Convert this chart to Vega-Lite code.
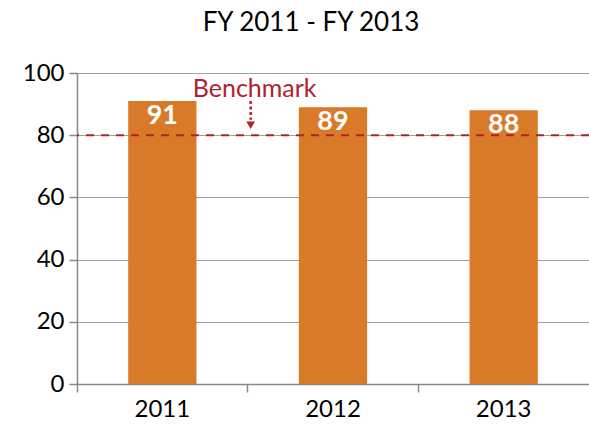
{
  "$schema": "https://vega.github.io/schema/vega-lite/v6.json",
  "autosize": "none",
  "width": 512,
  "height": 311,
  "padding": {"left": 77, "top": 73, "right": 0, "bottom": 44},
  "background": "white",
  "title": {"text": "FY 2011 - FY 2013", "font": "Lato", "fontSize": 26, "fontWeight": "normal", "color": "#000000", "anchor": "middle", "dx": -22, "offset": 25},
  "config": {"view": {"stroke": null}, "font": "Lato"},
  "datasets": {
    "bars": [
      {"year": "2011", "value": 91},
      {"year": "2012", "value": 89},
      {"year": "2013", "value": 88}
    ],
    "bench": [{"value": 80, "label": "Benchmark", "year": "2012", "ty": 95, "a1": 91, "a2": 85, "tip": 83.2}]
  },
  "layer": [
    {
      "data": {"name": "bars"},
      "mark": {"type": "bar", "color": "#D97A29"},
      "encoding": {
        "x": {"field": "year", "type": "nominal", "scale": {"paddingInner": 0.6, "paddingOuter": 0.3},
          "axis": {"title": null, "labelAngle": 0, "labelFont": "Lato", "labelFontSize": 24, "labelColor": "#000000", "labelPadding": 5,
            "bandPosition": -0.75, "tickSize": 8, "tickColor": "#898989", "domainColor": "#898989", "domainWidth": 1.5, "tickWidth": 1.5, "grid": false}},
        "y": {"field": "value", "type": "quantitative", "scale": {"domain": [0, 100]},
          "axis": {"title": null, "values": [0, 20, 40, 60, 80, 100], "labelFont": "Lato", "labelFontSize": 24, "labelColor": "#000000", "labelPadding": 5,
            "tickSize": 8, "tickColor": "#898989", "domainColor": "#898989", "domainWidth": 1.5, "tickWidth": 1.5,
            "grid": true, "gridColor": "#A0A0A0", "gridWidth": 1.2}}
      }
    },
    {
      "data": {"name": "bars"},
      "mark": {"type": "text", "color": "white", "fontWeight": "bold", "fontSize": 27, "font": "Lato", "baseline": "middle", "dy": 15},
      "encoding": {
        "x": {"field": "year", "type": "nominal"},
        "y": {"field": "value", "type": "quantitative"},
        "text": {"field": "value", "type": "quantitative"}
      }
    },
    {
      "data": {"name": "bench"},
      "mark": {"type": "rule", "color": "#B0222E", "strokeDash": [8, 7], "strokeWidth": 2},
      "encoding": {"y": {"field": "value", "type": "quantitative"}}
    },
    {
      "data": {"name": "bench"},
      "mark": {"type": "text", "color": "#B0222E", "fontSize": 25, "font": "Lato", "baseline": "middle", "align": "center", "dx": 7},
      "encoding": {
        "x": {"field": "year", "type": "nominal", "bandPosition": -0.75},
        "y": {"field": "ty", "type": "quantitative"},
        "text": {"field": "label"}
      }
    },
    {
      "data": {"name": "bench"},
      "mark": {"type": "rule", "color": "#B0222E", "strokeDash": [3, 2.5], "strokeWidth": 2.5, "xOffset": 3},
      "encoding": {
        "x": {"field": "year", "type": "nominal", "bandPosition": -0.75},
        "y": {"field": "a1", "type": "quantitative"},
        "y2": {"field": "a2"}
      }
    },
    {
      "data": {"name": "bench"},
      "mark": {"type": "point", "shape": "triangle-down", "filled": true, "color": "#B0222E", "size": 75, "opacity": 1, "xOffset": 3},
      "encoding": {
        "x": {"field": "year", "type": "nominal", "bandPosition": -0.75},
        "y": {"field": "tip", "type": "quantitative"}
      }
    }
  ]
}
